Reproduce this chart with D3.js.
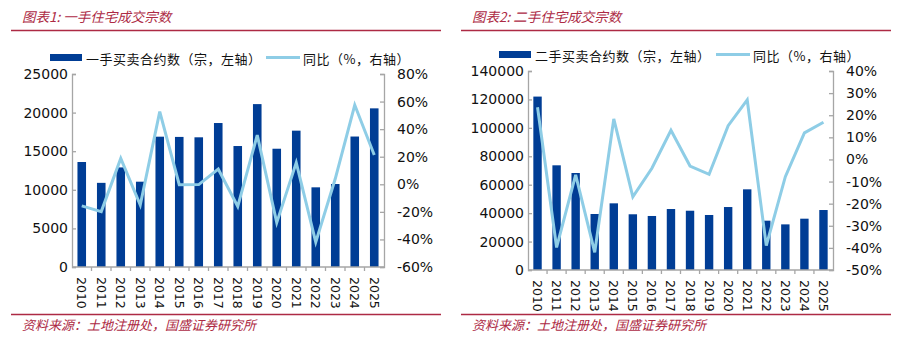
<!DOCTYPE html>
<html>
<head>
<meta charset="utf-8">
<script src="https://cdn.jsdelivr.net/npm/d3@7"></script>
<style>
  html, body { margin: 0; padding: 0; background: #fff; }
  svg { display: block; }
</style>
</head>
<body>
<svg id="chart" width="908" height="343"></svg>
<script>
// Years shared by both panels
const years = ["2010","2011","2012","2013","2014","2015","2016","2017",
               "2018","2019","2020","2021","2022","2023","2024","2025"];

// Panel 1: first-hand residential agreements
const newHomeDeals = [13600, 10900, 12900, 11050, 16880, 16850, 16800, 18650,
                      15670, 21100, 15320, 17660, 10320, 10750, 16900, 20550];
const newHomeYoY   = [-15.7, -19.8, 18.8, -15.0, 52.7, -0.3, -0.2, 11.0,
                      -16.0, 35.7, -27.8, 15.7, -42.0, 4.0, 57.5, 21.2];

// Panel 2: second-hand residential agreements
const secondHandDeals = [122000, 73650, 68240, 39400, 46900, 39200, 38000, 42900,
                         41700, 38700, 44300, 56750, 34700, 32100, 36100, 42200];
const secondHandYoY   = [23.6, -39.8, -7.0, -42.0, 18.3, -16.9, -4.0, 13.2,
                         -3.0, -6.7, 15.3, 26.9, -39.0, -7.8, 12.0, 16.8];

// Axis ticks
const newLeftTicks   = [0, 5000, 10000, 15000, 20000, 25000];
const newRightTicks  = [-60, -40, -20, 0, 20, 40, 60, 80];
const usedLeftTicks  = [0, 20000, 40000, 60000, 80000, 100000, 120000, 140000];
const usedRightTicks = [-50, -40, -30, -20, -10, 0, 10, 20, 30, 40];

// Texts
const titles = ["图表1:  一手住宅成交宗数", "图表2:  二手住宅成交宗数"];
const barLegends = ["一手买卖合约数（宗，左轴）", "二手买卖合约数（宗，左轴）"];
const lineLegend = "同比（%，右轴）";
const sourceNote = "资料来源：土地注册处，国盛证券研究所";

const BAR = "#003d95";
const LINE = "#8ecde6";
const RED = "#ad2a44";
const AXIS = "#a6a6a6";
const CJK = "'Noto Sans CJK SC', 'Noto Sans', sans-serif";
const NUM = "'DejaVu Sans', Verdana, sans-serif";

const svg = d3.select("#chart");

const pct = v => `${v}%`;

function panel(cfg) {
  const g = svg.append("g");

  // Header title and rule
  g.append("text")
    .attr("x", cfg.frame[0] + 11).attr("y", 22)
    .attr("font-family", CJK).attr("font-size", 13.5)
    .attr("font-style", "italic")
    .attr("fill", RED)
    .text(cfg.title);
  g.append("line")
    .attr("x1", cfg.frame[0]).attr("x2", cfg.frame[1])
    .attr("y1", 30.5).attr("y2", 30.5)
    .attr("stroke", RED).attr("stroke-width", 1.4);

  // Footer rule and source
  g.append("line")
    .attr("x1", cfg.frame[0]).attr("x2", cfg.frame[1])
    .attr("y1", 314.5).attr("y2", 314.5)
    .attr("stroke", RED).attr("stroke-width", 1.4);
  g.append("text")
    .attr("x", cfg.frame[0] + 11).attr("y", 330)
    .attr("font-family", CJK).attr("font-size", 13)
    .attr("font-style", "italic")
    .attr("fill", RED)
    .text(sourceNote);

  // Scales
  const x = d3.scaleBand().domain(years)
    .range([cfg.plot.left, cfg.plot.right])
    .paddingInner(0.56).paddingOuter(0.28);
  const xb = d3.scaleBand().domain(years).range([cfg.plot.left, cfg.plot.right]);
  const yL = d3.scaleLinear().domain(cfg.leftDomain).range([cfg.plot.bottom, cfg.plot.top]);
  const yR = d3.scaleLinear().domain(cfg.rightDomain).range([cfg.plot.bottom, cfg.plot.top]);

  // Bars
  g.append("g").selectAll("rect")
    .data(cfg.bars)
    .join("rect")
    .attr("x", (d, i) => x(years[i]))
    .attr("width", x.bandwidth())
    .attr("y", d => yL(d))
    .attr("height", d => yL(0) - yL(d))
    .attr("fill", BAR);

  // YoY line
  const line = d3.line()
    .x((d, i) => xb(years[i]) + xb.bandwidth() / 2)
    .y(d => yR(d));
  g.append("path")
    .datum(cfg.yoy)
    .attr("d", line)
    .attr("fill", "none")
    .attr("stroke", LINE)
    .attr("stroke-width", 3)
    .attr("stroke-linejoin", "miter");

  // Left axis
  const la = g.append("g")
    .attr("transform", `translate(${cfg.plot.left},0)`)
    .call(d3.axisRight(yL).tickValues(cfg.leftTicks).tickSize(4).tickFormat(d3.format("d")));
  la.select(".domain").attr("stroke", AXIS).attr("stroke-width", 1.3);
  la.selectAll(".tick line").attr("stroke", AXIS).attr("stroke-width", 1.3);
  la.selectAll(".tick text")
    .attr("x", -4).attr("text-anchor", "end")
    .attr("font-family", NUM).attr("font-size", 14).attr("fill", "#111");

  // Right axis
  const ra = g.append("g")
    .attr("transform", `translate(${cfg.plot.right},0)`)
    .call(d3.axisLeft(yR).tickValues(cfg.rightTicks).tickSize(4).tickFormat(pct));
  ra.select(".domain").attr("stroke", AXIS).attr("stroke-width", 1.3);
  ra.selectAll(".tick line").attr("stroke", AXIS).attr("stroke-width", 1.3);
  ra.selectAll(".tick text")
    .attr("x", 13).attr("text-anchor", "start")
    .attr("font-family", NUM).attr("font-size", 14).attr("fill", "#111");

  // Bottom axis with ticks at band boundaries
  const bg = g.append("g");
  bg.append("line")
    .attr("x1", cfg.plot.left).attr("x2", cfg.plot.right)
    .attr("y1", cfg.plot.bottom).attr("y2", cfg.plot.bottom)
    .attr("stroke", AXIS).attr("stroke-width", 1.3);
  bg.selectAll("line.bt")
    .data(years.slice(1))
    .join("line")
    .attr("class", "bt")
    .attr("x1", d => xb(d)).attr("x2", d => xb(d))
    .attr("y1", cfg.plot.bottom).attr("y2", cfg.plot.bottom + 4)
    .attr("stroke", AXIS).attr("stroke-width", 1.3);
  bg.selectAll("text")
    .data(years)
    .join("text")
    .attr("transform", d => `translate(${xb(d) + xb.bandwidth() / 2},${cfg.plot.bottom + 10}) rotate(90)`)
    .attr("text-anchor", "start")
    .attr("dominant-baseline", "central")
    .attr("font-family", NUM).attr("font-size", 12.5).attr("fill", "#111")
    .text(d => d);

  // Legend
  const ly = cfg.legend.y;
  const lg = g.append("g");
  lg.append("rect")
    .attr("x", cfg.legend.rect).attr("y", ly - 4)
    .attr("width", 32).attr("height", 7)
    .attr("fill", BAR);
  lg.append("text")
    .attr("x", cfg.legend.rect + 36).attr("y", ly)
    .attr("dominant-baseline", "central")
    .attr("font-family", CJK).attr("font-size", 13).attr("fill", "#111")
    .attr("letter-spacing", 0.5)
    .text(cfg.barLegend);
  lg.append("line")
    .attr("x1", cfg.legend.line).attr("x2", cfg.legend.line + 34)
    .attr("y1", ly - 0.5).attr("y2", ly - 0.5)
    .attr("stroke", LINE).attr("stroke-width", 3);
  lg.append("text")
    .attr("x", cfg.legend.line + 37).attr("y", ly)
    .attr("dominant-baseline", "central")
    .attr("font-family", CJK).attr("font-size", 13).attr("fill", "#111")
    .attr("letter-spacing", 0.5)
    .text(lineLegend);
}

panel({
  frame: [11, 441],
  title: titles[0],
  barLegend: barLegends[0],
  plot: { left: 72, right: 384, top: 74, bottom: 267 },
  leftDomain: [0, 25000], rightDomain: [-60, 80],
  leftTicks: newLeftTicks, rightTicks: newRightTicks,
  bars: newHomeDeals, yoy: newHomeYoY,
  legend: { rect: 50, line: 266, y: 58 }
});

panel({
  frame: [461, 891],
  title: titles[1],
  barLegend: barLegends[1],
  plot: { left: 528, right: 833, top: 71, bottom: 270 },
  leftDomain: [0, 140000], rightDomain: [-50, 40],
  leftTicks: usedLeftTicks, rightTicks: usedRightTicks,
  bars: secondHandDeals, yoy: secondHandYoY,
  legend: { rect: 499, line: 716, y: 55 }
});
</script>
</body>
</html>
